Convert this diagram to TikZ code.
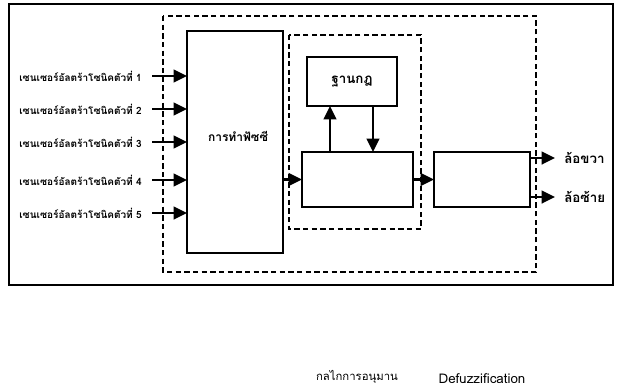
\documentclass[tikz,border=0pt]{standalone}
\usepackage{fontspec}
\setmainfont{Loma}[Script=Thai]
\usetikzlibrary{arrows.meta,positioning}

\begin{document}
\begin{tikzpicture}[
  x=0.75pt, y=-0.75pt,
  blk/.style={draw, line width=1.8pt, inner sep=0pt, outer sep=0pt, font=\bfseries\fontsize{10}{12}\selectfont},
  grp/.style={draw, line width=0.8pt, dash pattern=on 4pt off 2.5pt},
  lab/.style={font=\bfseries\fontsize{10}{12}\selectfont, inner sep=0pt},
  sens/.style={font=\bfseries\fontsize{7.5}{9}\selectfont, inner sep=0pt, anchor=east},
  note/.style={font=\fontsize{8.5}{10}\selectfont, inner sep=0pt, anchor=base},
  arr/.style={line width=1.7pt, -{Triangle[length=10pt,width=9.5pt]}}
]
\useasboundingbox (0,0) rectangle (617,387);

% --- frame and groups ---
\draw[line width=2.2pt] (9,4) rectangle (613,285);
\draw[grp] (163,16) rectangle (536,272);
\draw[grp] (289,35) rectangle (421,229);

% --- blocks ---
\node[blk, minimum width=72pt, minimum height=166.5pt] (fuzz) at (235,142) {};
\node[lab, font=\bfseries\fontsize{9}{11}\selectfont] (fuzzlab) at (238,136) {การทำฟัซซี};
\node[blk, minimum width=67.5pt, minimum height=36.75pt] (rule) at (352,81.5) {ฐานกฎ};
\node[blk, minimum width=83.25pt, minimum height=41.25pt] (infer) at (357.5,179.5) {};
\node[blk, minimum width=72pt, minimum height=41.25pt] (defz) at (482,179.5) {};

% --- sensor inputs ---
\foreach \i/\y in {1/76,2/109,3/142,4/180,5/213}{
  \coordinate (in\i) at (152,\y);
  \node[sens] (s\i) at (142,\y) {เซนเซอร์อัลตร้าโซนิคตัวที่ \i};
  \draw[arr] (in\i) -- (in\i -| fuzz.west);
}

% --- inner connections ---
\coordinate (up) at (330,0);
\coordinate (dn) at (373,0);
\draw[arr] (fuzz.east |- infer.west) -- (infer.west);
\draw[arr] (infer.north -| up) -- (rule.south -| up);
\draw[arr] (rule.south -| dn) -- (infer.north -| dn);
\draw[arr] (infer) -- (defz);

% --- wheels ---
\coordinate (out1) at (555,158);
\coordinate (out2) at (555,197);
\draw[arr] (defz.east |- out1) -- (out1);
\draw[arr] (defz.east |- out2) -- (out2);
\node[lab, anchor=west] (right) at (564,158) {ล้อขวา};
\node[lab, anchor=west] (left) at (564,197) {ล้อซ้าย};

% --- notes below ---
\node[note] (ninf) at (357,380) {กลไกการอนุมาน};
\node[note, font=\fontsize{10}{12}\selectfont] (ndef) at (482,383) {Defuzzification};

\end{tikzpicture}
\end{document}
